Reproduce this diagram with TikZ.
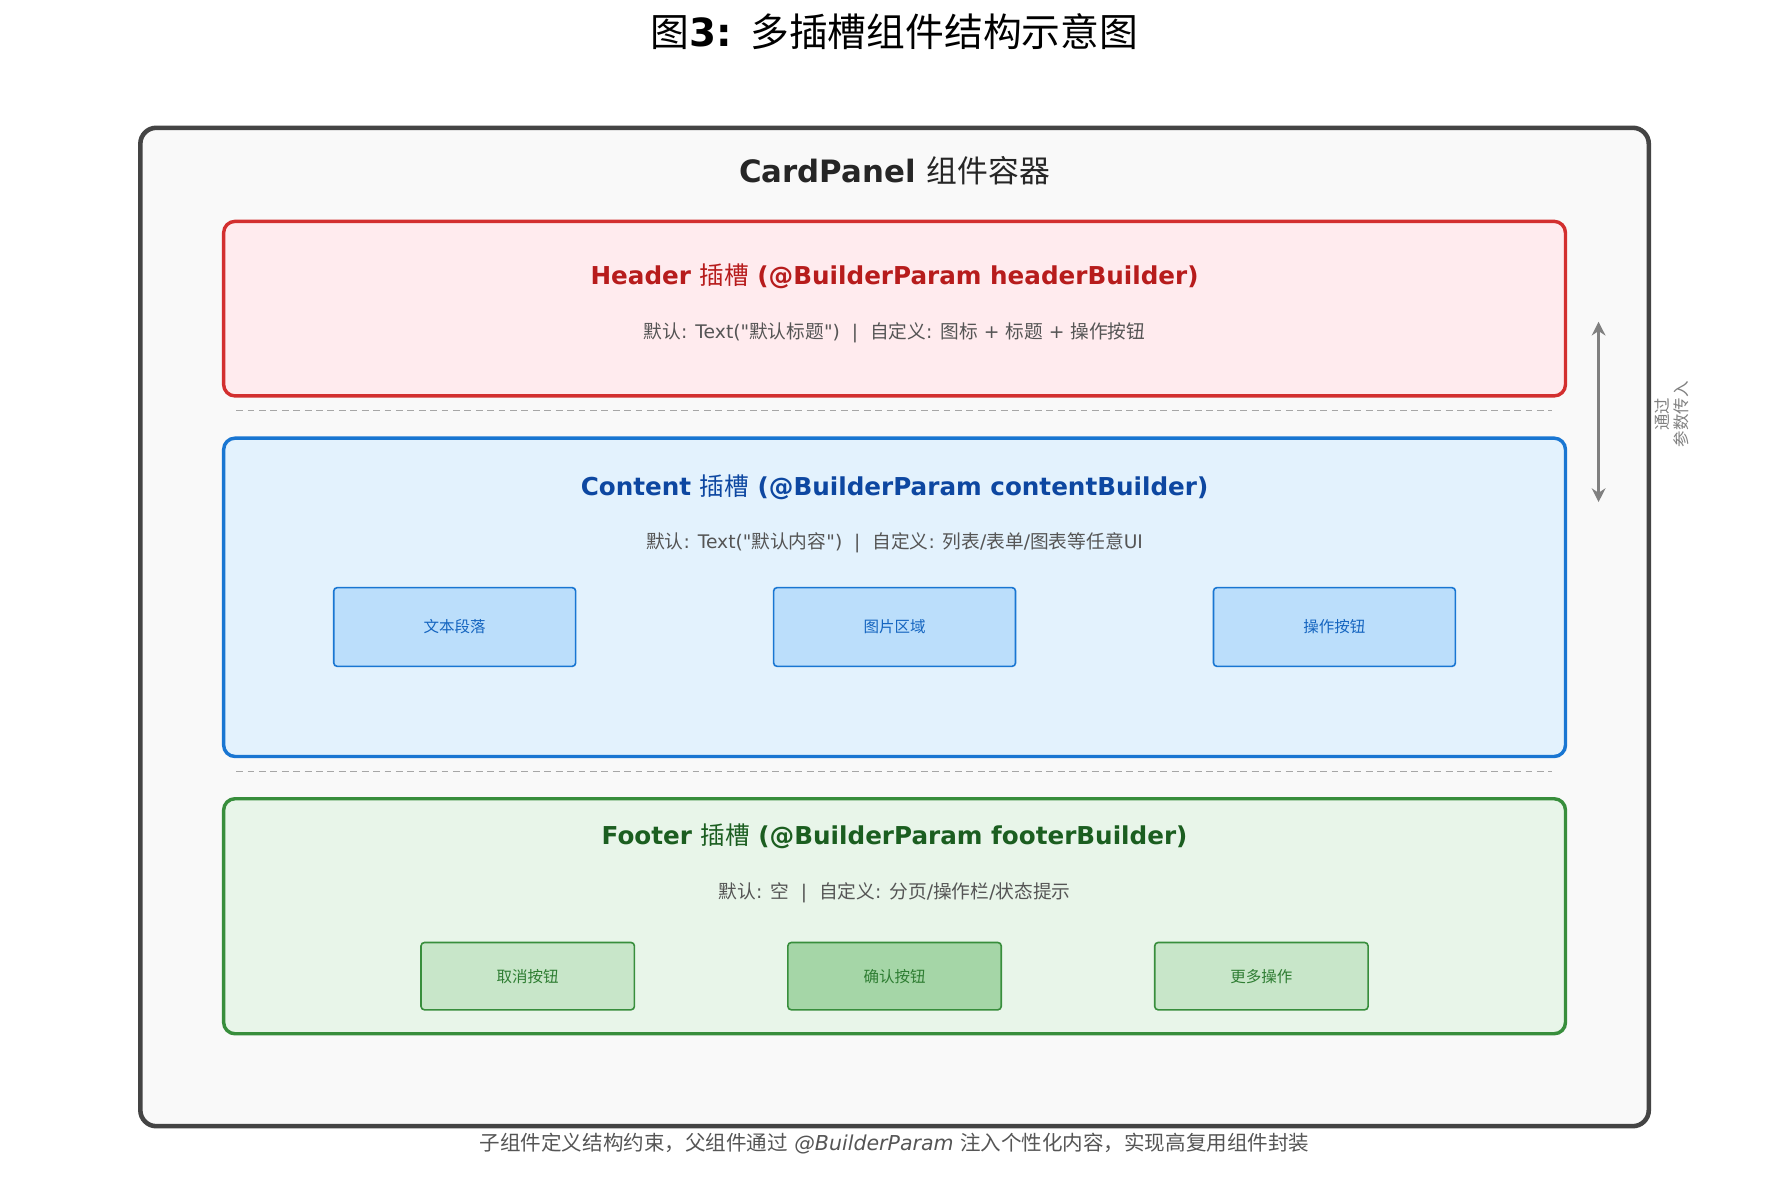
\documentclass[tikz,border=0pt]{standalone}
\usepackage{fontspec}
\setmainfont{DejaVu Sans}
\newfontfamily\cjk{Noto Sans CJK SC}
\newfontfamily\straightfont{DejaVu Sans}
\newcommand{\zh}[1]{{\cjk\mdseries #1}}
\newcommand{\dq}{{\straightfont\symbol{34}}}
\usetikzlibrary{arrows.meta}
\definecolor{cardedge}{HTML}{444444}
\definecolor{cardfill}{HTML}{F9F9F9}
\definecolor{hdedge}{HTML}{D32F2F}
\definecolor{hdfill}{HTML}{FFEBEE}
\definecolor{hdtext}{HTML}{B71C1C}
\definecolor{ctedge}{HTML}{1976D2}
\definecolor{ctfill}{HTML}{E3F2FD}
\definecolor{cttext}{HTML}{0D47A1}
\definecolor{ctbox}{HTML}{BBDEFB}
\definecolor{ctsmall}{HTML}{1565C0}
\definecolor{ftedge}{HTML}{388E3C}
\definecolor{ftfill}{HTML}{E8F5E9}
\definecolor{fttext}{HTML}{1B5E20}
\definecolor{ftbox}{HTML}{C8E6C9}
\definecolor{ftboxdark}{HTML}{A5D6A7}
\definecolor{ftsmall}{HTML}{2E7D32}
\definecolor{note}{HTML}{555555}

\begin{document}
\begin{tikzpicture}[x=0.5pt,y=-0.5pt,
  slot/.style={draw,line width=1.5pt,rounded corners=5pt},
  slottitle/.style={font=\fontsize{10.8}{12}\selectfont\bfseries},
  slotnote/.style={font=\fontsize{8.2}{10}\selectfont,text=note},
  item/.style={draw,line width=0.7pt,rounded corners=1.5pt,minimum width=106pt,minimum height=34.5pt,font=\fontsize{6.8}{8}\selectfont},
  btn/.style={item,minimum width=93.5pt,minimum height=29.5pt},
  sep/.style={draw=gray!70,dash pattern=on 3pt off 2pt,line width=0.6pt}]
  \useasboundingbox (0,0) rectangle (1560,1032);

  \node (title) at (784,28) {\fontsize{17}{20}\selectfont\bfseries\zh{图}3: \zh{多插槽组件结构示意图}};

  % card container
  \draw[draw=cardedge,fill=cardfill,line width=2pt,rounded corners=7pt] (123,112) rectangle (1445,987);
  \node (cardtitle) at (784,150) {\fontsize{13.5}{16}\selectfont\bfseries\color{black!85} CardPanel \zh{组件容器}};

  % header slot
  \draw[slot,draw=hdedge,fill=hdfill] (196,194) rectangle (1372,347);
  \node[slottitle,text=hdtext] (htitle) at (784,242) {Header \zh{插槽} (@BuilderParam headerBuilder)};
  \node[slotnote] (hnote) at (784,292) {\zh{默认}: Text(\dq\zh{默认标题}\dq)\ \ |\ \ \zh{自定义}: \zh{图标} + \zh{标题} + \zh{操作按钮}};
  \draw[sep] (207,360) -- (1360,360);

  % content slot
  \draw[slot,draw=ctedge,fill=ctfill] (196,384) rectangle (1372,663);
  \node[slottitle,text=cttext] (ctitle) at (784,427) {Content \zh{插槽} (@BuilderParam contentBuilder)};
  \node[slotnote] (cnote) at (784,476) {\zh{默认}: Text(\dq\zh{默认内容}\dq)\ \ |\ \ \zh{自定义}: \zh{列表}/\zh{表单}/\zh{图表等任意}UI};
  \node[item,draw=ctedge,fill=ctbox,text=ctsmall] (text) at (398.5,549.5) {\zh{文本段落}};
  \node[item,draw=ctedge,fill=ctbox,text=ctsmall] (image) at (784,549.5) {\zh{图片区域}};
  \node[item,draw=ctedge,fill=ctbox,text=ctsmall] (action) at (1169.5,549.5) {\zh{操作按钮}};
  \draw[sep] (207,676) -- (1360,676);

  % footer slot
  \draw[slot,draw=ftedge,fill=ftfill] (196,700) rectangle (1372,906);
  \node[slottitle,text=fttext] (ftitle) at (784,733) {Footer \zh{插槽} (@BuilderParam footerBuilder)};
  \node[slotnote] (fnote) at (784,782) {\zh{默认}: \zh{空}\ \ |\ \ \zh{自定义}: \zh{分页}/\zh{操作栏}/\zh{状态提示}};
  \node[btn,draw=ftedge,fill=ftbox,text=ftsmall] (cancel) at (462.5,855.5) {\zh{取消按钮}};
  \node[btn,draw=ftedge,fill=ftboxdark,text=ftsmall] (confirm) at (784,855.5) {\zh{确认按钮}};
  \node[btn,draw=ftedge,fill=ftbox,text=ftsmall] (more) at (1105.5,855.5) {\zh{更多操作}};

  % parameter arrow
  \coordinate (ptop) at (1401,282);
  \coordinate (pbot) at (1401,440);
  \draw[{Stealth[length=6pt,width=6pt]}-{Stealth[length=6pt,width=6pt]},draw=gray,line width=1.5pt] (ptop) -- (pbot);
  \node[rotate=90,align=center,text=gray,font=\fontsize{7.2}{8.5}\selectfont\cjk] (pnote) at (1465,363) {通过\\参数传入};

  \node[text=note] (caption) at (784,1002) {\fontsize{9}{10}\selectfont\zh{子组件定义结构约束，父组件通过} \textit{@BuilderParam} \zh{注入个性化内容，实现高复用组件封装}};
\end{tikzpicture}
\end{document}
